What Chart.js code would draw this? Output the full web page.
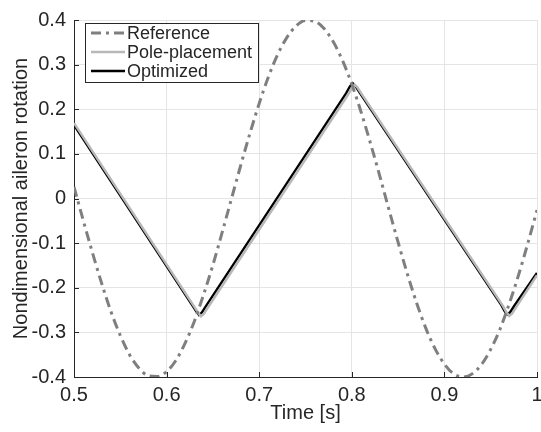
<!DOCTYPE html>
<html>
<head>
<meta charset="utf-8">
<script src="https://cdn.jsdelivr.net/npm/chart.js@4"></script>
<style>
  html, body { margin: 0; padding: 0; background: #fff; }
  #wrap { width: 541px; height: 432px; }
</style>
</head>
<body>
<div id="wrap"><canvas id="chart" width="541" height="432"></canvas></div>
<script>
// reference signal, read every 0.01 s
const refTime = [0.50, 0.51, 0.52, 0.53, 0.54, 0.55, 0.56, 0.57, 0.58, 0.59,
  0.60, 0.61, 0.62, 0.63, 0.64, 0.65, 0.66, 0.67, 0.68, 0.69,
  0.70, 0.71, 0.72, 0.73, 0.74, 0.75, 0.76, 0.77, 0.78, 0.79,
  0.80, 0.81, 0.82, 0.83, 0.84, 0.85, 0.86, 0.87, 0.88, 0.89,
  0.90, 0.91, 0.92, 0.93, 0.94, 0.95, 0.96, 0.97, 0.98, 0.99, 1.00];
const refValues = [0.026, -0.049, -0.122, -0.191, -0.254, -0.307, -0.350, -0.380, -0.397, -0.399,
  -0.388, -0.363, -0.324, -0.275, -0.215, -0.149, -0.076, -0.001, 0.074, 0.146,
  0.213, 0.273, 0.323, 0.361, 0.387, 0.399, 0.397, 0.381, 0.351, 0.309,
  0.256, 0.194, 0.125, 0.052, -0.024, -0.098, -0.169, -0.234, -0.291, -0.337,
  -0.371, -0.393, -0.400, -0.393, -0.372, -0.338, -0.293, -0.236, -0.172, -0.101, -0.026];

// optimized controller output (triangle wave with rounded corners)
const optTime = [0.500, 0.628, 0.632, 0.635, 0.638, 0.642,
  0.794, 0.798, 0.801, 0.804, 0.808,
  0.961, 0.965, 0.968, 0.971, 0.975, 1.000];
const optValues = [0.165, -0.240, -0.253, -0.261, -0.256, -0.243,
  0.236, 0.251, 0.258, 0.252, 0.239,
  -0.237, -0.252, -0.260, -0.255, -0.242, -0.167];

// pole-placement output, nearly on top of the optimized one
const ppTime = [0.500, 0.630, 0.634, 0.637, 0.640, 0.644,
  0.796, 0.800, 0.803, 0.806, 0.810,
  0.963, 0.967, 0.970, 0.973, 0.977, 1.000];
const ppValues = [0.169, -0.243, -0.256, -0.264, -0.259, -0.246,
  0.233, 0.248, 0.255, 0.249, 0.236,
  -0.240, -0.255, -0.263, -0.258, -0.245, -0.172];

const xTicks = [0.5, 0.6, 0.7, 0.8, 0.9, 1];
const yTicks = [-0.4, -0.3, -0.2, -0.1, 0, 0.1, 0.2, 0.3, 0.4];

const seriesNames = ['Reference', 'Pole-placement', 'Optimized'];

const pts = (xs, ys) => xs.map((x, i) => ({ x: x, y: ys[i] }));
const fmt = v => String(+(+v).toFixed(1));

const txt = '#262626';
const FONT = '"Liberation Sans", Arial, Helvetica, sans-serif';

// small inward tick marks (matlab style) + legend box in the upper left
const decor = {
  id: 'decor',
  afterDraw(chart) {
    const ctx = chart.ctx;
    const xs = chart.scales.x, ys = chart.scales.y;
    const a = chart.chartArea;
    ctx.save();
    ctx.strokeStyle = txt;
    ctx.lineWidth = 1;
    ctx.beginPath();
    xTicks.forEach(v => {
      const px = Math.round(xs.getPixelForValue(v)) + 0.5;
      ctx.moveTo(px, a.bottom); ctx.lineTo(px, a.bottom - 5);
    });
    yTicks.forEach(v => {
      const py = Math.round(ys.getPixelForValue(v)) + 0.5;
      ctx.moveTo(a.left, py); ctx.lineTo(a.left + 5, py);
    });
    ctx.stroke();

    // legend
    const bx = 85.5, by = 23.5, bw = 173, bh = 59;
    ctx.fillStyle = '#fff';
    ctx.fillRect(bx, by, bw, bh);
    ctx.strokeStyle = txt;
    ctx.strokeRect(bx, by, bw, bh);
    const rows = [33, 52, 71];
    ctx.font = '18px ' + FONT;
    ctx.textBaseline = 'middle';
    chart.data.datasets.forEach((ds, i) => {
      ctx.save();
      ctx.strokeStyle = ds.borderColor;
      ctx.lineWidth = ds.borderWidth;
      ctx.setLineDash(ds.borderDash || []);
      ctx.beginPath();
      ctx.moveTo(91, rows[i]); ctx.lineTo(125, rows[i]);
      ctx.stroke();
      ctx.restore();
      ctx.fillStyle = txt;
      ctx.fillText(seriesNames[i], 127, rows[i] + 1);
    });
    ctx.restore();
  }
};

new Chart(document.getElementById('chart'), {
  type: 'line',
  data: {
    datasets: [
      { label: seriesNames[0], data: pts(refTime, refValues), borderColor: '#7f7f7f',
        borderWidth: 3, borderDash: [10, 5, 3, 5], pointRadius: 0, tension: 0.4, cubicInterpolationMode: 'monotone' },
      { label: seriesNames[1], data: pts(ppTime, ppValues), borderColor: '#b8b8b8',
        borderWidth: 2.5, pointRadius: 0, tension: 0 },
      { label: seriesNames[2], data: pts(optTime, optValues), borderColor: '#000',
        borderWidth: 2.5, pointRadius: 0, tension: 0 }
    ]
  },
  options: {
    responsive: false,
    animation: false,
    layout: { padding: { top: 13, right: 4, left: 0, bottom: 0 } },
    plugins: { legend: { display: false }, tooltip: { enabled: false } },
    scales: {
      x: {
        type: 'linear', min: 0.5, max: 1,
        afterBuildTicks: s => { s.ticks = xTicks.map(v => ({ value: v })); },
        afterFit: s => { s.height = 55; s.paddingLeft = 0; s.paddingRight = 0; },
        grid: { color: '#e5e5e5', drawTicks: false },
        border: { color: txt, width: 1 },
        ticks: { color: txt, font: { family: FONT, size: 20 }, padding: 6, maxRotation: 0, callback: fmt },
        title: { display: true, text: 'Time [s]', color: txt, font: { family: FONT, size: 20 }, padding: { top: 0, bottom: 7 } }
      },
      y: {
        min: -0.4, max: 0.4,
        afterBuildTicks: s => { s.ticks = yTicks.map(v => ({ value: v })); },
        afterFit: s => { s.width = 74; },
        grid: { color: '#e5e5e5', drawTicks: false },
        border: { color: txt, width: 1 },
        ticks: { color: txt, font: { family: FONT, size: 20 }, padding: 8, callback: fmt },
        title: { display: true, text: 'Nondimensional aileron rotation', color: txt, font: { family: FONT, size: 20 }, padding: { top: 9, bottom: 0 } }
      }
    }
  },
  plugins: [decor]
});
</script>
</body>
</html>
